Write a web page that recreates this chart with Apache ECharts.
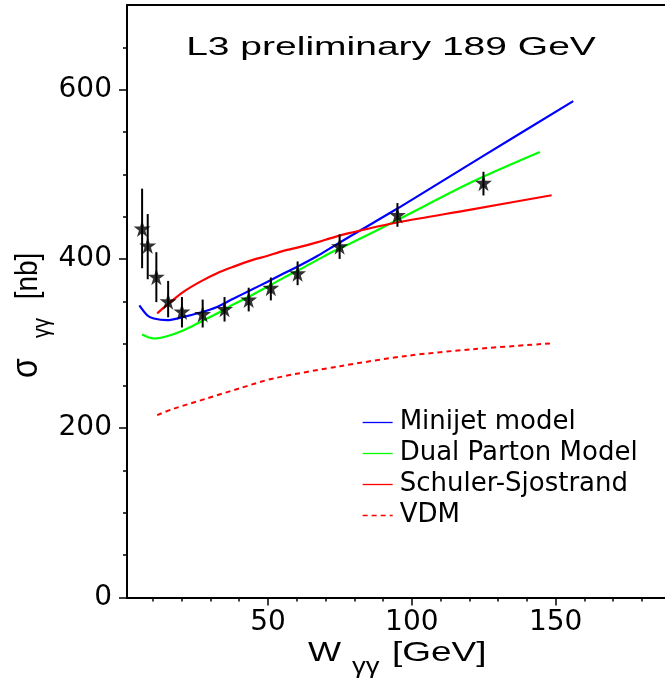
<!DOCTYPE html>
<html><head><meta charset="utf-8">
<script src="https://cdn.jsdelivr.net/npm/echarts@6/dist/echarts.min.js"></script>
<style>html,body{margin:0;padding:0;background:#fff}#c{width:665px;height:680px}</style>
</head><body><div id="c"></div>
<script>
// L3 data points (W_gg [GeV], sigma [nb], error band)
const dataW        = [6.25, 8.2, 11.2, 15.3, 20.1, 27.3, 34.9, 43.3, 51.0, 60.3, 74.9, 95.0, 124.9];
const dataSigma    = [436, 416, 379, 350, 338, 335, 341, 352, 366, 383, 415, 452, 490];
const dataErrHigh  = [483, 453, 408, 374, 355, 352, 355, 366, 378, 397, 429, 466, 503];
const dataErrLow   = [389, 376, 349, 331, 319, 319, 326, 338, 351, 369, 400, 438, 475];

// Minijet model (blue)
const minijetW     = [5.3, 8.0, 10.3, 14.9, 20.7, 26.5, 32.3, 38.1, 43.9, 49.7, 55.4, 61.2, 67.0, 72.8, 78.6, 95.0, 125.0, 156.1];
const minijetSigma = [345, 333.5, 329.6, 327.6, 331.5, 336.7, 343.3, 353.2, 363.0, 372.8, 382.8, 392.6, 403.2, 415.0, 426.8, 459.5, 522.0, 586.5];

// Dual Parton Model (green)
const dpmW         = [6.25, 10.3, 14.9, 20.7, 26.5, 32.3, 38.1, 43.9, 49.7, 55.4, 61.2, 67.0, 72.8, 78.6, 94.8, 121.4, 144.5];
const dpmSigma     = [310.7, 306.0, 308.7, 315.8, 325.6, 335.5, 346.5, 356.3, 366.9, 377.6, 387.8, 398.5, 409.1, 418.2, 445.7, 491.7, 526.3];

// Schuler-Sjostrand (red)
const ssW          = [11.5, 14.9, 20.7, 26.5, 32.3, 38.1, 43.9, 49.7, 55.4, 61.2, 67.0, 72.8, 78.6, 94.8, 120.0, 148.6];
const ssSigma      = [335.7, 345.6, 361.3, 373.2, 383.1, 390.9, 398.0, 403.5, 409.5, 414.2, 419.6, 425.5, 430.7, 443.0, 458.0, 475.2];

// VDM (red dashed)
const vdmW         = [11.5, 17.2, 28.8, 40.0, 51.9, 75.1, 98.3, 121.4, 148.0];
const vdmSigma     = [215.5, 223.0, 235.2, 247.0, 258.8, 273.3, 285.5, 293.4, 300.1];

// axes
const xMin = 1, xMax = 188, yMin = 0, yMax = 700;
const xMajorTicks = [50, 100, 150];
const xMinorTicks = [10, 20, 30, 40, 60, 70, 80, 90, 110, 120, 130, 140, 160, 170, 180];
const yMajorTicks = [0, 200, 400, 600];
const yMinorTicks = [50, 100, 150, 250, 300, 350, 450, 500, 550, 650];

const zip = (a, b) => a.map((v, i) => [v, b[i]]);
const STAR = 'path://M50,0 L61,35 L98,35 L68,57 L79,91 L50,70 L21,91 L32,57 L2,35 L39,35 Z';
const tickFont = 'DejaVu Sans';
const txtFont = 'Liberation Sans';

const chart = echarts.init(document.getElementById('c'), null, {renderer: 'canvas'});
const axisBase = {
  type: 'value', min: xMin, max: xMax, splitLine: {show: false}
};
function txt(text, x, y, size, opts) {
  return Object.assign({type: 'text', x: x, y: y, z: 10,
    style: {text: text, font: size + 'px "' + txtFont + '"', fill: '#000',
      align: opts.align || 'left', verticalAlign: 'middle',
      textAlign: opts.align || 'left', textVerticalAlign: 'middle'}}, opts.t || {});
}
chart.setOption({
  animation: false,
  backgroundColor: '#fff',
  grid: {left: 127, right: 0, top: 5, bottom: 82.5},
  xAxis: [
    Object.assign({}, axisBase, {
      position: 'bottom',
      axisLine: {show: true, lineStyle: {color: '#000', width: 2}},
      axisTick: {show: true, length: 8, lineStyle: {color: '#000', width: 1.5}, customValues: xMajorTicks},
      axisLabel: {show: true, customValues: xMajorTicks, color: '#000', fontFamily: tickFont, fontSize: 28, margin: 11}
    }),
    Object.assign({}, axisBase, {
      position: 'bottom',
      axisLine: {show: false},
      axisTick: {show: true, length: 4, lineStyle: {color: '#000', width: 1.5}, customValues: xMinorTicks},
      axisLabel: {show: false}
    }),
    Object.assign({}, axisBase, {
      position: 'top',
      axisLine: {show: true, lineStyle: {color: '#000', width: 2}},
      axisTick: {show: false},
      axisLabel: {show: false}
    })
  ],
  yAxis: [
    {
      type: 'value', min: yMin, max: yMax, position: 'left', splitLine: {show: false},
      axisLine: {show: true, lineStyle: {color: '#000', width: 2}},
      axisTick: {show: true, length: 8, lineStyle: {color: '#000', width: 1.5}, customValues: yMajorTicks},
      axisLabel: {show: true, customValues: yMajorTicks, color: '#000', fontFamily: tickFont, fontSize: 28, margin: 15}
    },
    {
      type: 'value', min: yMin, max: yMax, position: 'left', splitLine: {show: false},
      axisLine: {show: false},
      axisTick: {show: true, length: 4, lineStyle: {color: '#000', width: 1.5}, customValues: yMinorTicks},
      axisLabel: {show: false}
    }
  ],
  legend: {
    orient: 'vertical', left: 362, top: 407, padding: 0, itemWidth: 30, itemHeight: 14, itemGap: 0,
    data: ['Minijet model', 'Dual Parton Model', 'Schuler-Sjostrand', 'VDM'],
    textStyle: {fontFamily: tickFont, fontSize: 26, color: '#000', lineHeight: 31, padding: [0, 0, 0, 2]},
    lineStyle: {width: 1.3, color: 'inherit'},
    itemStyle: {opacity: 0}
  },
  graphic: [
    txt('L3 preliminary 189 GeV', 391, 48, 26, {align: 'center', t: {scaleX: 1.5}}),
    txt('W', 308, 653, 28, {t: {scaleX: 1.25}}),
    txt('γγ', 352, 667, 22, {t: {scaleX: 1.25}}),
    txt('[GeV]', 392, 653, 28, {t: {scaleX: 1.32}}),
    txt('σ', 27, 368, 32, {align: 'center', t: {rotation: Math.PI / 2, scaleY: 1.15}}),
    txt('γγ', 43, 328, 20, {align: 'center', t: {rotation: Math.PI / 2, scaleY: 1.15}}),
    txt('[nb]', 28, 276, 28, {align: 'center', t: {rotation: Math.PI / 2, scaleY: 1.15}})
  ],
  series: [
    {name: 'Minijet model', type: 'line', data: zip(minijetW, minijetSigma), symbol: 'none', smooth: 0.3,
      lineStyle: {color: '#0000ff', width: 2.2}, itemStyle: {color: '#0000ff'}, z: 3},
    {name: 'Dual Parton Model', type: 'line', data: zip(dpmW, dpmSigma), symbol: 'none', smooth: 0.3,
      lineStyle: {color: '#00ff00', width: 2.2}, itemStyle: {color: '#00ff00'}, z: 3},
    {name: 'Schuler-Sjostrand', type: 'line', data: zip(ssW, ssSigma), symbol: 'none', smooth: 0.3,
      lineStyle: {color: '#ff0000', width: 2.2}, itemStyle: {color: '#ff0000'}, z: 3},
    {name: 'VDM', type: 'line', data: zip(vdmW, vdmSigma), symbol: 'none', smooth: 0.3,
      lineStyle: {color: '#ff0000', width: 2, type: [5, 4]}, itemStyle: {color: '#ff0000'}, z: 3},
    {name: 'errors', type: 'custom', z: 4,
      data: dataW.map((w, i) => [w, dataErrLow[i], dataErrHigh[i]]),
      encode: {x: 0, y: [1, 2]},
      renderItem: function (params, api) {
        const p1 = api.coord([api.value(0), api.value(1)]);
        const p2 = api.coord([api.value(0), api.value(2)]);
        return {type: 'line', shape: {x1: p1[0], y1: p1[1], x2: p2[0], y2: p2[1]},
          style: {stroke: '#000', lineWidth: 2}};
      }},
    {name: 'L3', type: 'scatter', data: zip(dataW, dataSigma), symbol: STAR, symbolSize: 17,
      itemStyle: {color: '#000'}, z: 5}
  ]
});
</script>
</body></html>
